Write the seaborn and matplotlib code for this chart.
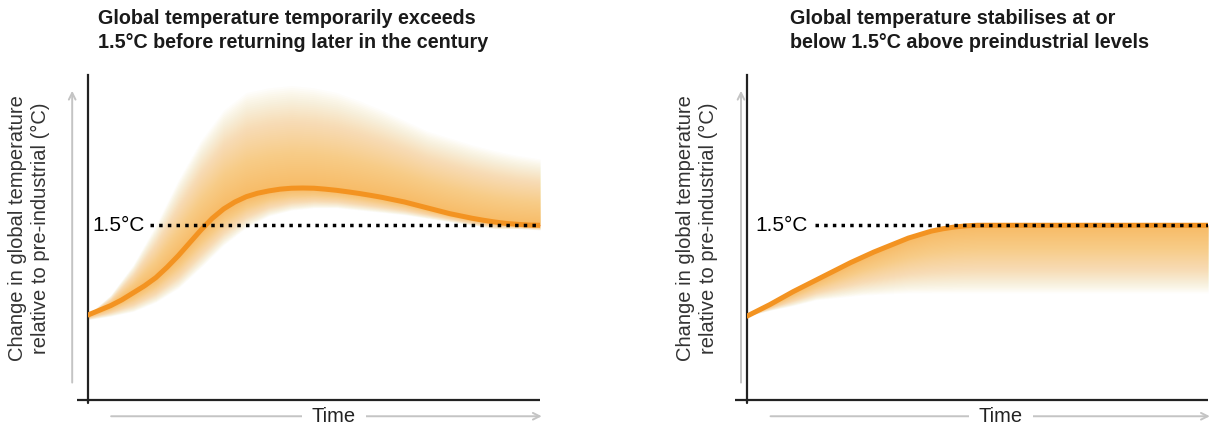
import numpy as np
import pandas as pd
import matplotlib
matplotlib.use('Agg')
import matplotlib.pyplot as plt
import seaborn as sns

# --- data (time is unitless 0-100, temperature change in degC) ---
time = [0, 2.5, 5, 7.5, 10, 12.5, 15, 17.5, 20, 22.5, 25, 27.5, 30, 32.5, 35, 37.5, 40,
        42.5, 45, 47.5, 50, 52.5, 55, 57.5, 60, 62.5, 65, 67.5, 70, 72.5, 75, 77.5, 80,
        82.5, 85, 87.5, 90, 92.5, 95, 97.5, 100]

# left panel: overshoot then return
overshoot = [0.73, 0.77, 0.81, 0.86, 0.92, 0.98, 1.05, 1.14, 1.24, 1.35, 1.46, 1.56, 1.64,
             1.70, 1.745, 1.775, 1.795, 1.81, 1.818, 1.82, 1.818, 1.81, 1.80, 1.787, 1.773,
             1.757, 1.74, 1.72, 1.70, 1.675, 1.65, 1.625, 1.60, 1.58, 1.56, 1.543, 1.528,
             1.516, 1.508, 1.502, 1.50]

# uncertainty envelope, read every 5 time units
band_time = [0, 5, 10, 15, 20, 25, 30, 35, 40, 45, 50, 55, 60, 65, 70, 75, 80, 85, 90, 95, 100]
overshoot_hi = [0.73, 0.90, 1.16, 1.50, 1.89, 2.23, 2.49, 2.64, 2.68, 2.70, 2.68,
                2.64, 2.57, 2.49, 2.40, 2.31, 2.25, 2.19, 2.14, 2.10, 2.07]
overshoot_lo = [0.69, 0.72, 0.76, 0.84, 0.96, 1.14, 1.33, 1.48, 1.58, 1.63, 1.65,
                1.65, 1.63, 1.61, 1.59, 1.56, 1.53, 1.50, 1.47, 1.47, 1.46]

# right panel: stabilises at 1.5
stable = [0.72, 0.77, 0.82, 0.875, 0.93, 0.98, 1.03, 1.08, 1.13, 1.18, 1.225, 1.27, 1.31,
          1.35, 1.39, 1.42, 1.45, 1.47, 1.485, 1.495, 1.50, 1.50, 1.50, 1.50, 1.50, 1.50,
          1.50, 1.50, 1.50, 1.50, 1.50, 1.50, 1.50, 1.50, 1.50, 1.50, 1.50, 1.50, 1.50,
          1.50, 1.50]
stable_lo = [0.72, 0.77, 0.81, 0.86, 0.88, 0.90, 0.91, 0.92, 0.92, 0.92, 0.92,
             0.92, 0.92, 0.92, 0.92, 0.92, 0.92, 0.92, 0.92, 0.92, 0.92]

threshold = 1.5
titles = ['Global temperature temporarily exceeds\n1.5\u00b0C before returning later in the century',
          'Global temperature stabilises at or\nbelow 1.5\u00b0C above preindustrial levels']
ylabel = 'Change in global temperature\nrelative to pre-industrial (\u00b0C)'

ORANGE = '#F39321'
SHADE = '#F7A823'
GREY = '#C4C4C4'

sns.set_theme(style='white')
plt.rcParams['font.family'] = ['Liberation Sans', 'DejaVu Sans']

W, H = 1217, 425
fig = plt.figure(figsize=(W / 100, H / 100), dpi=100)


def px_axes(x0, x1, y0, y1):
    return fig.add_axes([x0 / W, (H - y1) / H, (x1 - x0) / W, (y1 - y0) / H])


def gradient(ax, x, mid, edge, n=50, alpha=0.021):
    x = np.asarray(x)
    mid = np.asarray(mid)
    edge = np.asarray(edge)
    for f in np.linspace(1, 0.02, n):
        ax.fill_between(x, mid, mid + f * (edge - mid), color=SHADE, alpha=alpha, lw=0)


def decorate(ax, label_end, dot_start, arrow_x, time_x):
    ax.set_xlim(0, 100)
    ax.set_ylim(0, 2.79)
    ax.set_xticks([])
    ax.set_yticks([])
    for s in ['top', 'right', 'bottom']:
        ax.spines[s].set_visible(False)
    ax.spines['left'].set_color('#222222')
    ax.spines['left'].set_linewidth(1.6)
    # x axis line, extends a little left of the y axis
    ax.plot([-0.025, 1.0], [0, 0], transform=ax.transAxes, color='#222222', lw=1.6,
            clip_on=False, solid_capstyle='butt', zorder=10)
    ax.plot([0, 0], [-0.01, 0], transform=ax.transAxes, color='#222222', lw=1.6,
            clip_on=False, zorder=10)
    # threshold line
    ax.hlines(threshold, dot_start, 100, colors='black', linestyles=(0, (1, 1.5)),
              lw=2.5, zorder=5)
    ax.text(label_end, threshold, '1.5\u00b0C', ha='right', va='center',
            fontsize=15, color='black', zorder=6)
    # grey arrows
    ax.annotate('', xy=(arrow_x, 0.96), xytext=(arrow_x, 0.045), xycoords='axes fraction',
                arrowprops=dict(arrowstyle='->', color=GREY, lw=1.4))
    ax.annotate('', xy=(1.01, -0.05), xytext=(0.045, -0.05), xycoords='axes fraction',
                arrowprops=dict(arrowstyle='->', color=GREY, lw=1.4))
    ax.text(time_x, -0.05, 'Time', transform=ax.transAxes, ha='center', va='center',
            fontsize=14.5, color='#222222', zorder=8,
            bbox=dict(facecolor='white', edgecolor='none', pad=7))
    ax.set_ylabel('')
    ax.set_xlabel('')


# ---- left panel ----
ax1 = px_axes(88, 540, 75, 400)
gradient(ax1, band_time, overshoot[::2], overshoot_hi)
gradient(ax1, band_time, overshoot[::2], overshoot_lo)
sns.lineplot(x=time, y=overshoot, ax=ax1, color=ORANGE, lw=3.6, zorder=4)
decorate(ax1, 12.6, 13.7, -0.035, 0.544)

# ---- right panel ----
ax2 = px_axes(747, 1208, 75, 400)
gradient(ax2, band_time, stable[::2], stable_lo)
sns.lineplot(x=time, y=stable, ax=ax2, color=ORANGE, lw=3.6, zorder=4)
decorate(ax2, 13.2, 14.8, -0.013, 0.551)

# titles and y labels
fig.text(98 / W, 1 - 9 / H, titles[0], ha='left', va='top', fontsize=14.2,
         fontweight='bold', color='#1a1a1a', linespacing=1.3)
fig.text(790 / W, 1 - 9 / H, titles[1], ha='left', va='top', fontsize=14.2,
         fontweight='bold', color='#1a1a1a', linespacing=1.3)
for xc in (29, 697):
    fig.text(xc / W, 1 - 228 / H, ylabel, rotation=90, ha='center', va='center',
             multialignment='center', fontsize=14.5, color='#333333', linespacing=1.2)

fig.savefig('out.png', dpi=100)
